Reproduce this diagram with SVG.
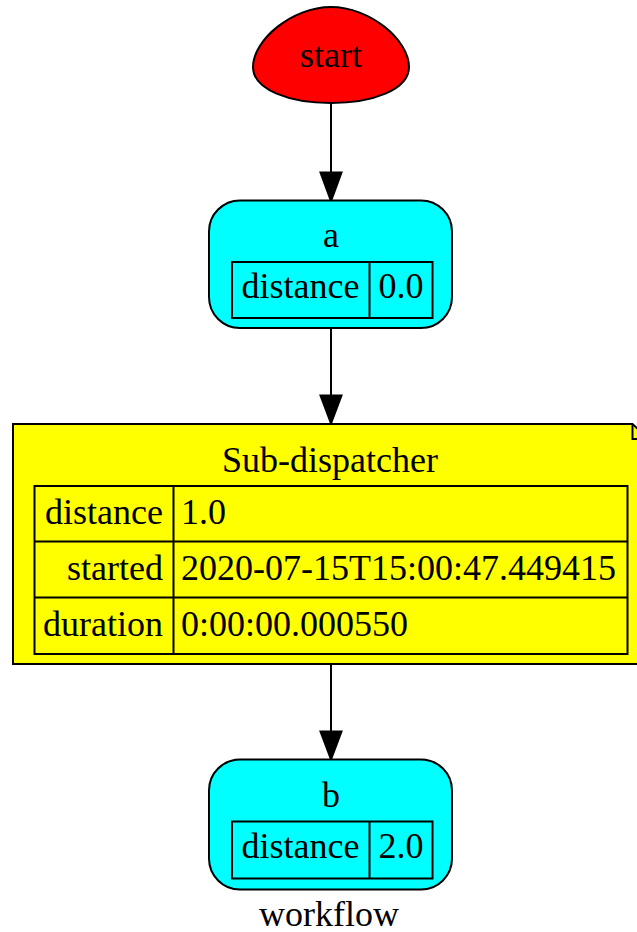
<svg xmlns="http://www.w3.org/2000/svg" width="637" height="932" viewBox="0 0 637 932">
<style>
text { font-family: "Liberation Serif", "Times New Roman", serif; font-size: 36px; fill: #000; }
.mid { text-anchor: middle; }
.end { text-anchor: end; }
.edge { stroke: #000; stroke-width: 2; fill: none; }
.head { fill: #000; stroke: #000; stroke-width: 2; }
.cell { fill: none; stroke: #000; stroke-width: 2; }
.fn { fill: #00ffff; stroke: #000; stroke-width: 2; }
</style>
<rect x="0" y="0" width="637" height="932" fill="#ffffff"/>
<g id="edges">
  <line class="edge" x1="331" y1="103" x2="331" y2="173"/>
  <polygon class="head" points="320.5,172.5 341.5,172.5 331,201"/>
  <line class="edge" x1="331" y1="328" x2="331" y2="396"/>
  <polygon class="head" points="320.5,395.5 341.5,395.5 331,423.5"/>
  <line class="edge" x1="331" y1="664" x2="331" y2="732"/>
  <polygon class="head" points="320.5,731.5 341.5,731.5 331,759.5"/>
</g>
<g id="start">
  <path d="M331,7 C370,7 409,40 409,67 C409,90 372,103 331,103 C290,103 253,90 253,67 C253,40 292,7 331,7 Z" fill="#ff0000" stroke="#000" stroke-width="2"/>
  <text class="mid" x="331" y="67">start</text>
</g>
<g id="a">
  <rect class="fn" x="209" y="200.5" width="243" height="127.5" rx="31" ry="31"/>
  <text class="mid" x="331" y="247">a</text>
  <rect class="cell" x="232" y="262" width="200.5" height="56"/>
  <line class="cell" x1="369.5" y1="262" x2="369.5" y2="318"/>
  <text class="mid" x="300.5" y="298">distance</text>
  <text class="mid" x="401" y="298">0.0</text>
</g>
<g id="sub-dispatcher">
  <polygon points="13,424 632.5,424 649,439 649,664 13,664" fill="#ffff00" stroke="#000" stroke-width="2"/>
  <polyline points="632.5,424 632.5,439 649,439" fill="none" stroke="#000" stroke-width="2"/>
  <text class="mid" x="330" y="472">Sub-dispatcher</text>
  <rect class="cell" x="34.5" y="486" width="593" height="168"/>
  <line class="cell" x1="34.5" y1="541.5" x2="627.5" y2="541.5"/>
  <line class="cell" x1="34.5" y1="597.5" x2="627.5" y2="597.5"/>
  <line class="cell" x1="173.5" y1="486" x2="173.5" y2="654"/>
  <text class="end" x="163" y="524">distance</text>
  <text x="181" y="524">1.0</text>
  <text class="end" x="163" y="580">started</text>
  <text x="181" y="580">2020-07-15T15:00:47.449415</text>
  <text class="end" x="163" y="636">duration</text>
  <text x="181" y="636">0:00:00.000550</text>
</g>
<g id="b">
  <rect class="fn" x="209" y="759.5" width="243" height="130" rx="31" ry="31"/>
  <text class="mid" x="331" y="807">b</text>
  <rect class="cell" x="232" y="821.5" width="200.5" height="57"/>
  <line class="cell" x1="369.5" y1="821.5" x2="369.5" y2="878.5"/>
  <text class="mid" x="300.5" y="858">distance</text>
  <text class="mid" x="401" y="858">2.0</text>
</g>
<g id="label">
  <text class="mid" x="329" y="925.5">workflow</text>
</g>
</svg>
